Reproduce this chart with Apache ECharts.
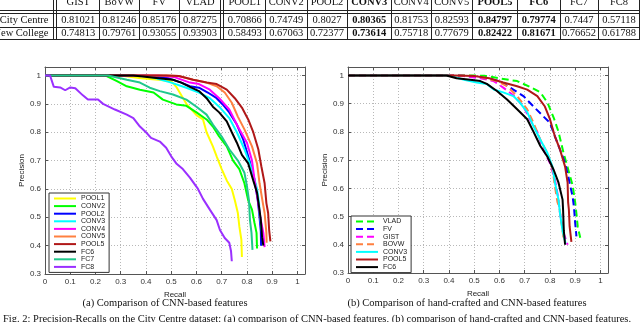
<!DOCTYPE html>
<html><head><meta charset="utf-8">
<script src="https://cdn.jsdelivr.net/npm/echarts@6/dist/echarts.min.js"></script>
<style>html,body{margin:0;padding:0;background:#fff;}#c{width:640px;height:322px;}</style>
</head><body><div id="c"></div>
<script>
// ---- table data ----
var tableHeaders = ['GIST','BoVW','FV','VLAD','POOL1','CONV2','POOL2','CONV3','CONV4','CONV5','POOL5','FC6','FC7','FC8'];
var tableBold = ['CONV3','POOL5','FC6'];
var rowNames = ['City Centre','New College'];
var cityCentre = ['0.81021','0.81246','0.85176','0.87275','0.70866','0.74749','0.8027','0.80365','0.81753','0.82593','0.84797','0.79774','0.7447','0.57118'];
var newCollege = ['0.74813','0.79761','0.93055','0.93903','0.58493','0.67063','0.72377','0.73614','0.75718','0.77679','0.82422','0.81671','0.76652','0.61788'];

// ---- axis ticks ----
var xTicks = [0,0.1,0.2,0.3,0.4,0.5,0.6,0.7,0.8,0.9,1];
var yTicks = [0.3,0.4,0.5,0.6,0.7,0.8,0.9,1];

// ---- left chart (CNN features) ----
var cnnNames = ['POOL1','CONV2','POOL2','CONV3','CONV4','CONV5','POOL5','FC6','FC7','FC8'];
var POOL1 = [[0,1],[0.30,1],[0.38,0.99],[0.45,0.985],[0.50,0.98],[0.52,0.96],[0.54,0.93],[0.56,0.90],[0.60,0.86],[0.626,0.845],[0.64,0.80],[0.665,0.75],[0.68,0.715],[0.70,0.67],[0.72,0.63],[0.74,0.60],[0.752,0.56],[0.764,0.515],[0.77,0.467],[0.778,0.42],[0.78,0.36]];
var CONV2 = [[0,1],[0.24,1],[0.285,0.98],[0.324,0.962],[0.376,0.95],[0.43,0.94],[0.467,0.915],[0.52,0.898],[0.56,0.893],[0.60,0.87],[0.64,0.845],[0.665,0.82],[0.69,0.785],[0.72,0.75],[0.745,0.70],[0.77,0.67],[0.79,0.62],[0.805,0.56],[0.82,0.527],[0.83,0.48],[0.838,0.445],[0.84,0.39]];
var POOL2 = [[0,1],[0.40,1],[0.49,0.99],[0.54,0.975],[0.574,0.962],[0.61,0.957],[0.645,0.94],[0.68,0.92],[0.705,0.897],[0.73,0.87],[0.76,0.827],[0.785,0.775],[0.81,0.70],[0.83,0.633],[0.843,0.56],[0.85,0.50],[0.855,0.45],[0.856,0.40]];
var CONV3 = [[0,1],[0.40,1],[0.50,0.975],[0.56,0.957],[0.61,0.94],[0.653,0.92],[0.69,0.89],[0.73,0.85],[0.76,0.80],[0.79,0.74],[0.82,0.667],[0.84,0.60],[0.848,0.55],[0.85,0.515],[0.86,0.445],[0.865,0.41]];
var CONV4 = [[0,1],[0.45,1],[0.51,0.995],[0.574,0.975],[0.61,0.97],[0.653,0.95],[0.69,0.92],[0.73,0.88],[0.764,0.82],[0.80,0.763],[0.82,0.70],[0.83,0.633],[0.843,0.56],[0.855,0.49],[0.865,0.445],[0.87,0.395]];
var CONV5 = [[0,1],[0.48,1],[0.53,0.998],[0.587,0.985],[0.64,0.975],[0.68,0.962],[0.712,0.94],[0.74,0.904],[0.764,0.855],[0.79,0.81],[0.82,0.75],[0.84,0.69],[0.85,0.62],[0.863,0.55],[0.87,0.515],[0.877,0.445],[0.878,0.41]];
var POOL5 = [[0,1],[0.48,1],[0.53,0.998],[0.587,0.985],[0.64,0.975],[0.68,0.97],[0.72,0.95],[0.752,0.92],[0.78,0.887],[0.805,0.845],[0.825,0.80],[0.845,0.74],[0.857,0.68],[0.87,0.62],[0.877,0.55],[0.884,0.515],[0.888,0.455],[0.893,0.415]];
var FC6 = [[0,1],[0.35,1],[0.45,0.99],[0.507,0.985],[0.54,0.975],[0.58,0.957],[0.61,0.945],[0.64,0.92],[0.665,0.89],[0.69,0.87],[0.72,0.838],[0.74,0.80],[0.76,0.763],[0.78,0.72],[0.805,0.69],[0.825,0.63],[0.84,0.587],[0.848,0.537],[0.855,0.49],[0.86,0.43],[0.865,0.40]];
var FC7 = [[0,1],[0.25,1],[0.324,0.985],[0.376,0.975],[0.415,0.957],[0.455,0.945],[0.507,0.933],[0.56,0.915],[0.60,0.89],[0.64,0.862],[0.665,0.827],[0.70,0.785],[0.73,0.74],[0.764,0.70],[0.79,0.657],[0.80,0.61],[0.808,0.56],[0.812,0.49],[0.818,0.445],[0.822,0.385]];
var FC8 = [[0,1],[0.02,1],[0.035,0.96],[0.06,0.958],[0.08,0.948],[0.1,0.958],[0.12,0.955],[0.15,0.93],[0.17,0.915],[0.21,0.915],[0.23,0.90],[0.277,0.88],[0.324,0.862],[0.35,0.85],[0.376,0.82],[0.40,0.80],[0.42,0.78],[0.455,0.767],[0.48,0.745],[0.50,0.715],[0.52,0.69],[0.546,0.67],[0.574,0.64],[0.606,0.60],[0.626,0.565],[0.653,0.527],[0.68,0.49],[0.693,0.455],[0.712,0.427],[0.73,0.41],[0.737,0.38],[0.74,0.345]];
var cnnData = [POOL1,CONV2,POOL2,CONV3,CONV4,CONV5,POOL5,FC6,FC7,FC8];

// ---- right chart (hand-crafted vs CNN) ----
var mixNames = ['VLAD','FV','GIST','BOVW','CONV3','POOL5','FC6'];
var VLAD_b = [[0,1],[0.50,1],[0.54,0.999],[0.60,0.99],[0.67,0.98],[0.72,0.96],[0.762,0.94],[0.79,0.904],[0.815,0.85],[0.834,0.80],[0.854,0.725],[0.873,0.665],[0.89,0.61],[0.90,0.55],[0.905,0.51],[0.91,0.465],[0.92,0.425]];
var FV_b = [[0,1],[0.45,1],[0.55,0.99],[0.60,0.98],[0.655,0.95],[0.695,0.927],[0.735,0.89],[0.774,0.855],[0.80,0.832],[0.82,0.783],[0.84,0.737],[0.86,0.69],[0.873,0.64],[0.89,0.57],[0.895,0.535],[0.90,0.477],[0.905,0.43]];
var GIST_b = [[0,1],[0.42,1],[0.456,0.998],[0.524,0.99],[0.577,0.98],[0.615,0.957],[0.655,0.93],[0.695,0.89],[0.72,0.845],[0.75,0.80],[0.774,0.737],[0.80,0.69],[0.82,0.63],[0.834,0.56],[0.84,0.51],[0.855,0.44],[0.87,0.40]];
var BOVW_b = [[0,1],[0.45,1],[0.51,0.998],[0.59,0.98],[0.63,0.962],[0.67,0.927],[0.71,0.88],[0.735,0.832],[0.762,0.772],[0.79,0.725],[0.81,0.67],[0.82,0.605],[0.83,0.55],[0.837,0.535],[0.847,0.47],[0.855,0.415]];
var CONV3_b = [[0,1],[0.40,1],[0.46,0.985],[0.51,0.975],[0.55,0.97],[0.577,0.95],[0.615,0.94],[0.655,0.927],[0.68,0.905],[0.71,0.87],[0.735,0.82],[0.762,0.772],[0.79,0.725],[0.81,0.677],[0.82,0.62],[0.834,0.56],[0.84,0.51],[0.85,0.45],[0.862,0.405]];
var POOL5_b = [[0,1],[0.42,1],[0.50,0.998],[0.56,0.99],[0.615,0.975],[0.67,0.962],[0.71,0.95],[0.75,0.927],[0.78,0.89],[0.80,0.845],[0.82,0.783],[0.84,0.737],[0.86,0.677],[0.87,0.62],[0.872,0.55],[0.875,0.525],[0.878,0.465],[0.885,0.41]];
var FC6_b = [[0,1],[0.39,1],[0.43,0.99],[0.484,0.985],[0.524,0.98],[0.55,0.97],[0.59,0.945],[0.63,0.915],[0.67,0.88],[0.71,0.845],[0.735,0.80],[0.762,0.75],[0.79,0.712],[0.815,0.665],[0.834,0.62],[0.85,0.56],[0.852,0.525],[0.855,0.45],[0.86,0.40]];
var mixData = [VLAD_b,FV_b,GIST_b,BOVW_b,CONV3_b,POOL5_b,FC6_b];

// ---- styles ----
var colorOf = {POOL1:'#ffff00',CONV2:'#00ff00',POOL2:'#0000ff',CONV3:'#00ffff',CONV4:'#ff00ff',CONV5:'#ff8040',POOL5:'#b01818',FC6:'#000000',FC7:'#20c88c',FC8:'#9a30ff',VLAD:'#00ff00',FV:'#0000ff',GIST:'#ff00ff',BOVW:'#ff8040'};
var dashedSet = ['VLAD','FV','GIST','BOVW'];

var chart = echarts.init(document.getElementById('c'), null, {renderer:'canvas'});
function fmt(v){ return String(+(+v).toFixed(2)); }

function makeX(gi, pos, show){
  return {gridIndex:gi, type:'value', min:0, max:1.03, interval:0.1, position:pos,
    name: show ? 'Recall' : '', nameLocation:'middle', nameGap:11,
    nameTextStyle:{fontFamily:'Liberation Sans', fontSize:8, color:'#222'},
    axisLine:{show:true, onZero:false, lineStyle:{color:'#555', width:1}},
    axisTick:{show:true, inside:true, length:3, customValues:xTicks, lineStyle:{color:'#555'}},
    axisLabel:{show:show, margin:4, customValues:xTicks, formatter:fmt, fontFamily:'Liberation Sans', fontSize:8, color:'#333'},
    splitLine:{show:show, lineStyle:{type:[1,2], color:'#b8b8b8', width:1}}};
}
function makeY(gi, pos, show){
  return {gridIndex:gi, type:'value', min:0.3, max:1.03, interval:0.1, position:pos,
    name: show ? 'Precision' : '', nameLocation:'middle', nameGap:16, nameRotate:90,
    nameTextStyle:{fontFamily:'Liberation Sans', fontSize:8, color:'#222'},
    axisLine:{show:true, onZero:false, lineStyle:{color:'#555', width:1}},
    axisTick:{show:true, inside:true, length:3, customValues:yTicks, lineStyle:{color:'#555'}},
    axisLabel:{show:show, margin:4, customValues:yTicks, formatter:fmt, fontFamily:'Liberation Sans', fontSize:8, color:'#333'},
    splitLine:{show:show, lineStyle:{type:[1,2], color:'#b8b8b8', width:1}}};
}

var series = [];
cnnNames.forEach(function(n,i){
  series.push({name:n, type:'line', xAxisIndex:0, yAxisIndex:0, data:cnnData[i], symbol:'none', smooth:false,
    lineStyle:{color:colorOf[n], width:2}, itemStyle:{color:colorOf[n]}, animation:false, z:2+i});
});
mixNames.forEach(function(n,i){
  var d = dashedSet.indexOf(n) >= 0;
  series.push({name:n, type:'line', xAxisIndex:2, yAxisIndex:2, data:mixData[i], symbol:'none', smooth:false,
    lineStyle:{color:colorOf[n], width:2, type: d ? [7,4] : 'solid'}, itemStyle:{color:colorOf[n]}, animation:false, z:2+i});
});

// ---- table graphics ----
var colEdges = [54.5, 99.5, 139, 179.5, 222, 265.5, 307, 347, 391.5, 431, 472.5, 517.5, 560, 598, 640];
var g = [];
function txt(s, x, y, bold, align){
  g.push({type:'text', silent:true, style:{text:s, x:x, y:y, font:(bold?'bold ':'')+'10.5px "Liberation Serif"', fill:'#111', align:align||'center', textAlign:align||'center', verticalAlign:'middle', textVerticalAlign:'middle'}});
}
function ln(x1,y1,x2,y2,w,c){
  g.push({type:'line', silent:true, shape:{x1:x1,y1:y1,x2:x2,y2:y2}, style:{stroke:c||'#222', lineWidth:w||1}});
}
ln(53.5,0,53.5,40); ln(56.5,0,56.5,40);
ln(220.5,0,220.5,40); ln(223.5,0,223.5,40);
[99.5,139.5,179.5,265.5,307.5,347.5,391.5,431.5,472.5,517.5,560.5,598.5,639.5].forEach(function(x){ ln(x,0,x,40); });
ln(0,10.5,640,10.5); ln(0,13.5,640,13.5); ln(0,27.5,640,27.5); ln(0,39.5,640,39.5);
var colCenters = [];
for (var i=0;i<tableHeaders.length;i++){
  var a = (i===0)?57:(i===4?224:colEdges[i]); var b = colEdges[i+1];
  if (i===3) b = 220.5;
  colCenters.push((a+b)/2);
}
tableHeaders.forEach(function(h,i){ txt(h, colCenters[i], 2.5, tableBold.indexOf(h)>=0); });
txt(rowNames[0], 48.5, 20.5, false, 'right');
txt(rowNames[1], 48.5, 33.5, false, 'right');
cityCentre.forEach(function(v,i){ txt(v, colCenters[i], 20.5, tableBold.indexOf(tableHeaders[i])>=0); });
newCollege.forEach(function(v,i){ txt(v, colCenters[i], 33.5, tableBold.indexOf(tableHeaders[i])>=0); });
g.push({type:'text', silent:true, style:{text:'(a) Comparison of CNN-based features', x:165, y:303, font:'10.5px "Liberation Serif"', fill:'#111', align:'center', textAlign:'center', verticalAlign:'middle', textVerticalAlign:'middle'}});
g.push({type:'text', silent:true, style:{text:'(b) Comparison of hand-crafted and CNN-based features', x:467, y:303, font:'10.5px "Liberation Serif"', fill:'#111', align:'center', textAlign:'center', verticalAlign:'middle', textVerticalAlign:'middle'}});
g.push({type:'text', silent:true, style:{text:'Fig. 2: Precision-Recalls on the City Centre dataset: (a) comparison of CNN-based features, (b) comparison of hand-crafted and CNN-based features.', x:3, y:319.5, font:'10.5px "Liberation Serif"', fill:'#111', align:'left', textAlign:'left', verticalAlign:'middle', textVerticalAlign:'middle'}});

var legendBase = {orient:'vertical', itemWidth:22, itemHeight:7, itemGap:0.6, padding:[2,4,2,4],
  borderColor:'#333', borderWidth:1, backgroundColor:'#fff', selectedMode:false, z:20,
  itemStyle:{color:'rgba(0,0,0,0)', borderWidth:0, opacity:0},
  textStyle:{fontFamily:'Liberation Sans', fontSize:7, color:'#222', lineHeight:7}};

var option = {
  backgroundColor:'#fff',
  animation:false,
  grid:[
    {left:45, right:335, top:67, bottom:48, show:false},
    {left:348, right:32, top:67, bottom:49, show:false}
  ],
  xAxis:[makeX(0,'bottom',true), makeX(0,'top',false), makeX(1,'bottom',true), makeX(1,'top',false)],
  yAxis:[makeY(0,'left',true), makeY(0,'right',false), makeY(1,'left',true), makeY(1,'right',false)],
  legend:[
    Object.assign({}, legendBase, {left:49, top:193, data:cnnNames}),
    Object.assign({}, legendBase, {left:351, top:216, data:mixNames})
  ],
  series: series,
  graphic: g
};
chart.setOption(option);
</script></body></html>
